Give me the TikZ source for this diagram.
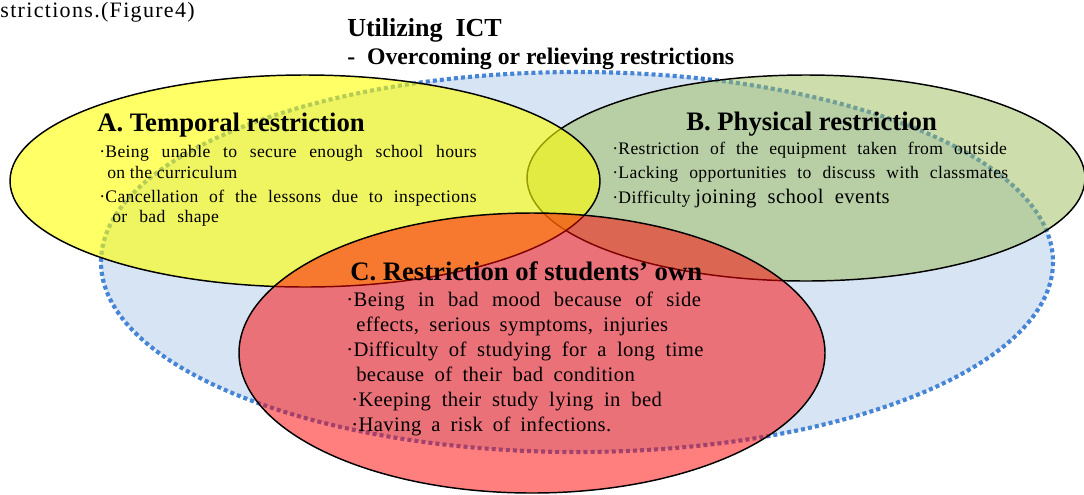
\documentclass[tikz,border=0pt]{standalone}
\usepackage{fontspec}
\setmainfont{Liberation Serif}
\newfontfamily\widefont{Liberation Serif}[LetterSpace=2.0]
\newfontfamily\captionfont{Liberation Serif}[LetterSpace=6.0]
\definecolor{ictfill}{RGB}{215,228,243}
\definecolor{ictdot}{RGB}{70,132,214}
\definecolor{tempcol}{RGB}{255,255,0}
\definecolor{physcol}{RGB}{155,187,89}
\definecolor{owncol}{RGB}{255,0,0}
\tikzset{
  region/.style={draw=black, line width=1.1pt},
  heading/.style={anchor=base west, inner sep=0pt, font=\bfseries\fontsize{20}{24}\selectfont},
  itemline/.style={anchor=base west, inner sep=0pt, font=\widefont\fontsize{13.2}{16}\selectfont},
  ownline/.style={anchor=base west, inner sep=0pt, font=\widefont\fontsize{15.5}{18}\selectfont},
}
\newcommand{\spread}[2]{\makebox[#1pt][s]{#2}}
\begin{document}
\begin{tikzpicture}[x=0.75pt,y=-0.75pt]
\useasboundingbox (0,0) rectangle (1084,494);

% ICT area: light blue with a dotted border
\fill[ictfill] (577,262) ellipse [x radius=476, y radius=190];
\draw[ictdot, line width=3.1pt, dash pattern=on 3pt off 2.3pt] (577,262) ellipse [x radius=476, y radius=190];

% the three restrictions
\draw[region, fill=physcol, fill opacity=0.5] (806,178) ellipse [x radius=279, y radius=103];
\draw[region, fill=tempcol, fill opacity=0.6] (305,181) ellipse [x radius=295, y radius=106];
\draw[region, fill=owncol, fill opacity=0.5] (532,353) ellipse [x radius=293, y radius=140];

% caption fragment and title
\node[anchor=base east, inner sep=0pt, font=\captionfont\fontsize{16.5}{20}\selectfont] (fig) at (195,17) {strictions.(Figure4)};
\node[anchor=base west, inner sep=0pt, font=\bfseries\fontsize{19.5}{23}\selectfont] (title) at (347,36) {Utilizing\ \ ICT};
\node[anchor=base west, inner sep=0pt, font=\bfseries\fontsize{17.8}{21}\selectfont] (subtitle) at (347,64) {-\ \ Overcoming or relieving restrictions};

% A
\node[heading] (ahead) at (97,131) {A. Temporal restriction};
\node[itemline] (a1) at (99,157) {\spread{283}{·Being unable to secure enough school hours}};
\node[itemline] (a2) at (107,178) {on the curriculum};
\node[itemline] (a3) at (99,202) {\spread{283}{·Cancellation of the lessons due to inspections}};
\node[itemline] (a4) at (112,222) {\spread{80}{or bad shape}};

% B
\node[heading] (bhead) at (686,130) {B. Physical restriction};
\node[itemline] (b1) at (612,154) {\spread{296}{·Restriction of the equipment taken from outside}};
\node[itemline] (b2) at (612,178) {\spread{297}{·Lacking opportunities to discuss with classmates}};
\node[itemline] (b3) at (612,203) {·Difficulty \fontsize{15.5}{18}\selectfont joining\ \ school\ \ events};

% C
\node[heading] (chead) at (350,280) {C. Restriction of students’ own};
\node[ownline] (c1) at (346,306) {\spread{266}{·Being in bad mood because of side}};
\node[ownline] (c2) at (356,331) {\spread{234}{effects, serious symptoms, injuries}};
\node[ownline] (c3) at (346,356) {\spread{268}{·Difficulty of studying for a long time}};
\node[ownline] (c4) at (356,381) {\spread{209}{because of their bad condition}};
\node[ownline] (c5) at (351,406) {\spread{233}{·Keeping their study lying in bed}};
\node[ownline] (c6) at (351,431) {\spread{195}{·Having a risk of infections.}};
\end{tikzpicture}
\end{document}
